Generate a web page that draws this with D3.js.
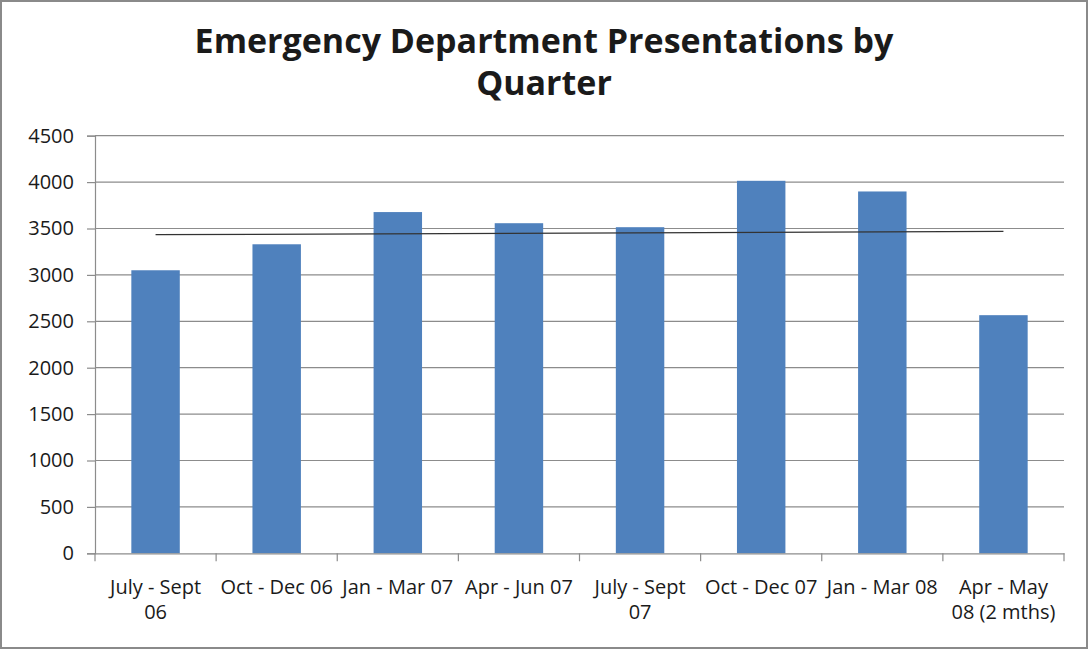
<!DOCTYPE html>
<html>
<head>
<meta charset="utf-8">
<script src="https://cdn.jsdelivr.net/npm/d3@7"></script>
<style>
  body { margin: 0; background: #fff; }
  text { font-family: "Open Sans", sans-serif; fill: #1a1a1a; }
</style>
</head>
<body>
<div id="chart"></div>
<script>
// data
const quarters = ["July - Sept|06", "Oct - Dec 06", "Jan - Mar 07", "Apr - Jun 07",
                  "July - Sept|07", "Oct - Dec 07", "Jan - Mar 08", "Apr - May|08 (2 mths)"];
const presentations = [3050, 3330, 3677, 3557, 3514, 4014, 3899, 2566];
const yTicks = [0, 500, 1000, 1500, 2000, 2500, 3000, 3500, 4000, 4500];
const titleLines = ["Emergency Department Presentations by", "Quarter"];

const W = 1088, H = 649;
const svg = d3.select('#chart')
    .append('svg')
    .attr('width', W)
    .attr('height', H);

// chart border
svg.append("rect")
    .attr("x", 1)
    .attr("y", 1)
    .attr("width", W - 2)
    .attr("height", H - 2)
    .attr("fill", "#fff")
    .attr("stroke", "#8a8a8a")
    .attr("stroke-width", 2);

const plotL = 95, plotR = 1064, plotT = 135.7, plotB = 553.3;

const x = d3.scaleBand().domain(quarters).range([plotL, plotR]).padding(0);
const y = d3.scaleLinear().domain([0, 4500]).range([plotB, plotT]);

// gridlines
svg.append("g")
    .selectAll("line")
    .data(yTicks.filter(d => d > 0))
    .join("line")
    .attr("x1", plotL)
    .attr("x2", plotR)
    .attr("y1", d => y(d))
    .attr("y2", d => y(d))
    .attr("stroke", "#8c8c8c")
    .attr("stroke-width", 1.2);

// bars (gap width 150%)
const barW = x.bandwidth() / 2.5;
svg.append("g")
    .selectAll("rect")
    .data(presentations)
    .join("rect")
    .attr("x", (d, i) => x(quarters[i]) + (x.bandwidth() - barW) / 2)
    .attr("y", d => y(d))
    .attr("width", barW)
    .attr("height", d => y(0) - y(d))
    .attr("fill", "#4f81bd");

// linear trendline
const n = presentations.length;
const xs = d3.range(1, n + 1);
const mx = d3.mean(xs), my = d3.mean(presentations);
const slope = d3.sum(xs, (v, i) => (v - mx) * (presentations[i] - my)) / d3.sum(xs, v => (v - mx) ** 2);
const icpt = my - slope * mx;
const center = i => x(quarters[i]) + x.bandwidth() / 2;
svg.append("line")
    .attr("x1", center(0))
    .attr("x2", center(n - 1))
    .attr("y1", y(icpt + slope * 1))
    .attr("y2", y(icpt + slope * n))
    .attr("stroke", "#333")
    .attr("stroke-width", 1.3);

// y axis
const yAxis = svg.append("g")
    .attr("transform", `translate(${plotL},0)`)
    .call(d3.axisLeft(y).tickValues(yTicks).tickFormat(d3.format("d")).tickSize(8).tickPadding(13));
yAxis.select(".domain").attr("stroke", "#8c8c8c").attr("stroke-width", 1.2);
yAxis.selectAll(".tick line").attr("stroke", "#8c8c8c").attr("stroke-width", 1.2);
yAxis.selectAll(".tick text")
    .attr("font-size", 20)
    .attr("font-family", "Open Sans")
    .attr("fill", "#1a1a1a");

// x axis
const xAxis = svg.append("g")
    .attr("transform", `translate(0,${plotB})`)
    .call(d3.axisBottom(x).tickValues([]).tickSizeOuter(0));
xAxis.select(".domain").attr("stroke", "#8c8c8c").attr("stroke-width", 1.2);
xAxis.selectAll("line.sep")
    .data(d3.range(n + 1))
    .join("line")
    .attr("class", "sep")
    .attr("x1", i => plotL + i * x.bandwidth())
    .attr("x2", i => plotL + i * x.bandwidth())
    .attr("y1", 0)
    .attr("y2", 8)
    .attr("stroke", "#8c8c8c")
    .attr("stroke-width", 1.2);

const labels = svg.append("g")
    .selectAll("text")
    .data(quarters)
    .join("text")
    .attr("x", d => x(d) + x.bandwidth() / 2)
    .attr("y", 594)
    .attr("text-anchor", "middle")
    .attr("font-size", 20);
labels.selectAll("tspan")
    .data(d => d.split("|"))
    .join("tspan")
    .attr("x", function () { return this.parentNode.getAttribute("x"); })
    .attr("dy", (d, i) => i === 0 ? 0 : 25)
    .text(d => d);

// title
svg.append("text")
    .attr("x", W / 2)
    .attr("text-anchor", "middle")
    .attr("font-family", "Lato")
    .attr("font-weight", "bold")
    .attr("font-size", 34)
    .selectAll("tspan")
    .data(titleLines)
    .join("tspan")
    .attr("x", W / 2)
    .attr("y", (d, i) => 53 + i * 42)
    .text(d => d);
</script>
</body>
</html>
